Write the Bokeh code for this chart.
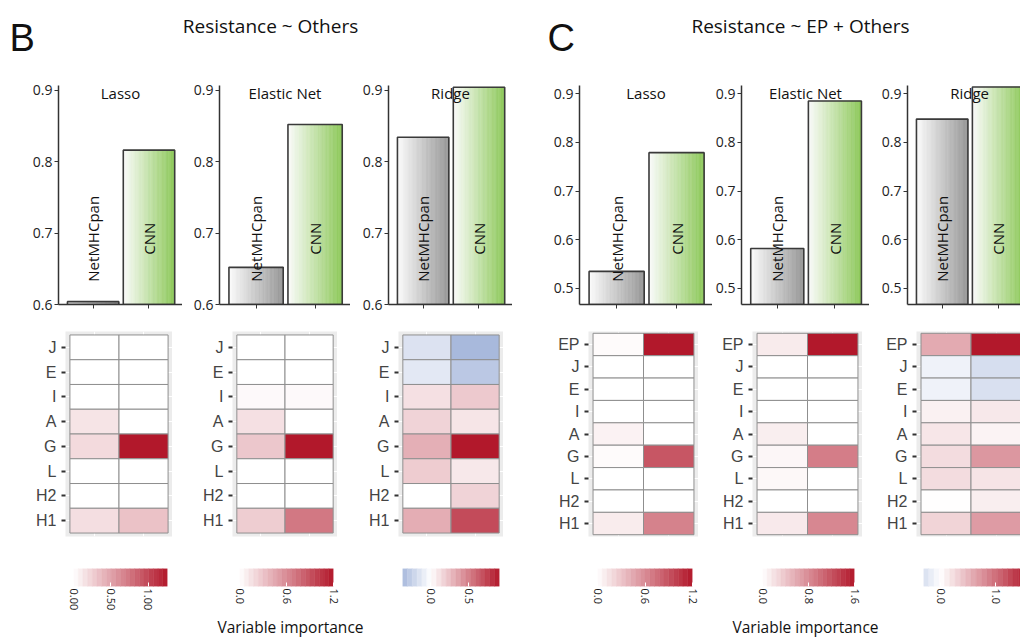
import numpy as np
from bokeh.plotting import figure
from bokeh.layouts import column, row
from bokeh.models import Range1d, FixedTicker
from bokeh.core.properties import value
from bokeh.embed import file_html
from bokeh.resources import INLINE

# ---------------------------------------------------------------- data
methods = ["Lasso", "Elastic Net", "Ridge"]
predictors = ["NetMHCpan", "CNN"]

# AUC per regression method (Lasso, Elastic Net, Ridge)
auc_others_netmhcpan = [0.604, 0.652, 0.834]
auc_others_cnn = [0.816, 0.852, 0.904]
auc_ep_netmhcpan = [0.535, 0.582, 0.848]
auc_ep_cnn = [0.779, 0.885, 0.914]

auc_ticks_others = [0.6, 0.7, 0.8, 0.9]
auc_ticks_ep = [0.5, 0.6, 0.7, 0.8, 0.9]

features_others = ["J", "E", "I", "A", "G", "L", "H2", "H1"]
features_ep = ["EP", "J", "E", "I", "A", "G", "L", "H2", "H1"]

# variable importance, one list per method and predictor (rows as in features_*)
imp_others_lasso_netmhcpan = [0, 0, 0, 0.15, 0.20, 0, 0, 0.18]
imp_others_lasso_cnn = [0, 0, 0, 0, 1.26, 0, 0, 0.33]
imp_others_enet_netmhcpan = [0, 0, 0.03, 0.16, 0.29, 0, 0, 0.26]
imp_others_enet_cnn = [0, 0, 0.03, 0, 1.20, 0, 0, 0.70]
imp_others_ridge_netmhcpan = [-0.15, -0.12, 0.12, 0.17, 0.31, 0.20, 0.0, 0.32]
imp_others_ridge_cnn = [-0.37, -0.29, 0.21, 0.10, 0.90, 0.09, 0.17, 0.70]

imp_ep_lasso_netmhcpan = [0.02, 0, 0, 0, 0.07, 0.02, 0, 0, 0.10]
imp_ep_lasso_cnn = [1.20, 0, 0, 0, 0, 0.88, 0, 0, 0.65]
imp_ep_enet_netmhcpan = [0.14, 0, 0, 0, 0.12, 0.06, 0.05, 0, 0.15]
imp_ep_enet_cnn = [1.60, 0, 0, 0, 0, 0.90, 0, 0, 0.83]
imp_ep_ridge_netmhcpan = [0.59, -0.12, -0.12, 0.10, 0.17, 0.24, 0.24, 0.01, 0.30]
imp_ep_ridge_cnn = [1.60, -0.31, -0.29, 0.16, 0.08, 0.72, 0.19, 0.12, 0.69]

cbar_ticks_others = [[0, 0.5, 1.0], [0, 0.6, 1.2], [0, 0.5]]
cbar_labels_others = [["0.00", "0.50", "1.00"], ["0.0", "0.6", "1.2"], ["0.0", "0.5"]]
cbar_ticks_ep = [[0, 0.6, 1.2], [0, 0.8, 1.6], [0, 1.0]]
cbar_labels_ep = [["0.0", "0.6", "1.2"], ["0.0", "0.8", "1.6"], ["0.0", "1.0"]]

# ---------------------------------------------------------------- style
SANS = value("Open Sans")
ARIAL = "Liberation Sans"
RED = (178, 24, 43)
BLUE = (43, 84, 170)
GREY_END = (150, 150, 150)
GREEN_END = (140, 200, 88)


def hexcol(rgb):
    return "#%02x%02x%02x" % tuple(int(round(c)) for c in rgb)


def mix(a, b, t):
    return tuple(x + (y - x) * t for x, y in zip(a, b))


def heat_color(v, vmax):
    t = min(abs(v) / vmax, 1.0)
    return hexcol(mix((255, 255, 255), RED if v >= 0 else BLUE, t))


def base_fig(w, h, xr, yr, bl, br, bt, bb, **kw):
    p = figure(width=w, height=h, x_range=Range1d(*xr), y_range=Range1d(*yr),
               output_backend="svg", toolbar_location=None, title=None,
               min_border_left=bl, min_border_right=br,
               min_border_top=bt, min_border_bottom=bb, **kw)
    p.outline_line_color = None
    p.border_fill_color = "white"
    p.background_fill_color = "white"
    return p


# ---------------------------------------------------------------- AUC bar panels
def bar_panel(title, net, cnn, y0, y1, yticks, bl, fw, xr=(0.38, 2.6)):
    p = base_fig(bl + fw, 245, xr, (y0, y1), bl, 0, 15, 11)
    p.grid.visible = False
    half = 0.46
    nstrip = 40
    ends = [GREY_END, GREEN_END]
    for i, v in enumerate([net, cnn]):
        c = i + 1
        edges = np.linspace(c - half, c + half, nstrip + 1)
        cols = [hexcol(mix((252, 252, 252), ends[i], (k + 0.5) / nstrip)) for k in range(nstrip)]
        p.quad(left=edges[:-1], right=edges[1:], bottom=[y0] * nstrip, top=[v] * nstrip,
               fill_color=cols, line_color=cols, line_width=0.6)
    p.quad(left=[1 - half, 2 - half], right=[1 + half, 2 + half], bottom=[y0, y0],
           top=[net, cnn], fill_color=None, line_color="#3a3a3a", line_width=1.6)
    span = y1 - y0
    p.text(x=[1, 2], y=[y0 + 0.30 * span] * 2, text=predictors, angle=np.pi / 2,
           text_align="center", text_baseline="middle", text_font=SANS,
           text_font_size="15px", text_color="#111111")
    p.text(x=[(xr[0] + 2.6) / 2], y=[y0 + 0.968 * span], text=[title],
           text_align="center", text_baseline="middle", text_font=SANS,
           text_font_size="15px", text_color="#111111")
    ya = p.yaxis[0]
    ya.ticker = FixedTicker(ticks=yticks)
    ya.axis_line_width = 1.5
    ya.axis_line_color = "#333333"
    ya.major_tick_out = 4
    ya.major_tick_in = 0
    ya.major_tick_line_color = "#333333"
    ya.minor_tick_line_color = None
    ya.major_label_standoff = 2
    ya.major_label_text_font = "Open Sans"
    ya.major_label_text_font_size = "14px"
    ya.major_label_text_color = "#222222"
    xa = p.xaxis[0]
    xa.ticker = FixedTicker(ticks=[1, 2])
    xa.axis_line_width = 1.5
    xa.axis_line_color = "#333333"
    xa.major_tick_out = 4
    xa.major_tick_in = 0
    xa.major_tick_line_color = "#333333"
    xa.minor_tick_line_color = None
    xa.major_label_overrides = {1: "", 2: ""}
    return p


# ---------------------------------------------------------------- importance heatmaps
def heat_panel(features, net, cnn, bl, fw, bt, fh, bb, xr=None):
    n = len(features)
    pad_y = 0.14 if n == 8 else 0.08
    if xr is None:
        xr = (-0.59, 1.59)
    p = base_fig(bl + fw, 245, xr, (-0.5 - pad_y, n - 0.5 + pad_y), bl, 0, bt, bb,
                 x_axis_location=None)
    p.background_fill_color = "#ececec"
    vals = list(net) + list(cnn)
    vmax = max(abs(v) for v in vals)
    ypos = [n - 1 - k for k in range(n)]
    xs = [0] * n + [1] * n
    ys = ypos + ypos
    p.rect(x=xs, y=ys, width=1, height=1, fill_color=[heat_color(v, vmax) for v in vals],
           line_color="#8f8f8f", line_width=1)
    p.xgrid.ticker = FixedTicker(ticks=[0, 1])
    p.grid.grid_line_color = "white"
    p.grid.grid_line_width = 1
    ya = p.yaxis[0]
    ya.ticker = FixedTicker(ticks=ypos)
    ya.major_label_overrides = {y: f for y, f in zip(ypos, features)}
    ya.axis_line_color = None
    ya.major_tick_out = 4
    ya.major_tick_in = 0
    ya.major_tick_line_width = 2
    ya.major_tick_line_color = "#333333"
    ya.minor_tick_line_color = None
    ya.major_label_standoff = 5
    ya.major_label_text_font = ARIAL
    ya.major_label_text_font_size = "16px"
    ya.major_label_text_color = "#444444"
    return p


# ---------------------------------------------------------------- colour bars
def cbar_panel(net, cnn, ticks, labels, bl, fw, br, x_end=None):
    vals = list(net) + list(cnn)
    vmin, vmax = min(vals), max(vals)
    vabs = max(abs(vmin), abs(vmax))
    p = base_fig(bl + fw + br, 55, (vmin, x_end if x_end is not None else vmax), (0, 1),
                 bl, br, 8, 29, y_axis_location=None)
    p.grid.visible = False
    nb = 20
    edges = np.linspace(vmin, vmax, nb + 1)
    cols = [heat_color((a + b) / 2, vabs) for a, b in zip(edges[:-1], edges[1:])]
    p.quad(left=edges[:-1], right=edges[1:], bottom=0, top=1, fill_color=cols,
           line_color=cols, line_width=0.5)
    xa = p.xaxis[0]
    xa.ticker = FixedTicker(ticks=ticks)
    xa.major_label_overrides = {t: l for t, l in zip(ticks, labels)}
    xa.axis_line_color = None
    xa.major_tick_in = 4
    xa.major_tick_out = 0
    xa.major_tick_line_color = "white"
    xa.minor_tick_line_color = None
    xa.major_label_orientation = "vertical"
    xa.major_label_standoff = 2
    xa.major_label_text_font = "Open Sans"
    xa.major_label_text_font_size = "11px"
    xa.major_label_text_color = "#1a1a1a"
    return p


# ---------------------------------------------------------------- text strips
def text_strip(h, items):
    p = base_fig(1020, h, (0, 1020), (h, 0), 0, 0, 0, 0,
                 x_axis_location=None, y_axis_location=None)
    p.grid.visible = False
    for x, y, txt, font, size, align, base in items:
        p.text(x=[x], y=[y], text=[txt], text_align=align, text_baseline=base,
               text_font=value(font), text_font_size=size, text_color="#111111")
    return p


header = text_strip(70, [
    (9, 37, "B", ARIAL, "38px", "left", "alphabetic"),
    (270, 25, "Resistance ~ Others", "Open Sans", "19px", "center", "middle"),
    (547, 37, "C", ARIAL, "38px", "left", "alphabetic"),
    (800, 25, "Resistance ~ EP + Others", "Open Sans", "19px", "center", "middle"),
])
footer = text_strip(26, [
    (290, 11, "Variable importance", "Open Sans", "15.5px", "center", "middle"),
    (805, 11, "Variable importance", "Open Sans", "15.5px", "center", "middle"),
])

y_others = (0.6, 0.9065)
y_ep = (0.467, 0.917)
bars = row(
    bar_panel(methods[0], auc_others_netmhcpan[0], auc_others_cnn[0], *y_others, auc_ticks_others, 58, 124),
    bar_panel(methods[1], auc_others_netmhcpan[1], auc_others_cnn[1], *y_others, auc_ticks_others, 37, 131),
    bar_panel(methods[2], auc_others_netmhcpan[2], auc_others_cnn[2], *y_others, auc_ticks_others, 38, 124),
    bar_panel(methods[0], auc_ep_netmhcpan[0], auc_ep_cnn[0], *y_ep, auc_ticks_ep, 67, 133),
    bar_panel(methods[1], auc_ep_netmhcpan[1], auc_ep_cnn[1], *y_ep, auc_ticks_ep, 28, 129),
    bar_panel(methods[2], auc_ep_netmhcpan[2], auc_ep_cnn[2], *y_ep, auc_ticks_ep, 38, 113,
              xr=(0.38, 2.40)),
)

heats = row(
    heat_panel(features_others, imp_others_lasso_netmhcpan, imp_others_lasso_cnn, 65, 107, 13, 208, 24),
    heat_panel(features_others, imp_others_enet_netmhcpan, imp_others_enet_cnn, 60, 105, 13, 208, 24),
    heat_panel(features_others, imp_others_ridge_netmhcpan, imp_others_ridge_cnn, 61, 105, 15, 208, 22),
    heat_panel(features_ep, imp_ep_lasso_netmhcpan, imp_ep_lasso_cnn, 85, 110, 16, 228, 1),
    heat_panel(features_ep, imp_ep_enet_netmhcpan, imp_ep_enet_cnn, 54, 110, 16, 228, 1),
    heat_panel(features_ep, imp_ep_ridge_netmhcpan, imp_ep_ridge_cnn, 54, 104, 16, 228, 1,
               xr=(-0.59, 1.49)),
)

cbars = row(
    cbar_panel(imp_others_lasso_netmhcpan, imp_others_lasso_cnn, cbar_ticks_others[0], cbar_labels_others[0], 73, 94, 8),
    cbar_panel(imp_others_enet_netmhcpan, imp_others_enet_cnn, cbar_ticks_others[1], cbar_labels_others[1], 64, 94, 8),
    cbar_panel(imp_others_ridge_netmhcpan, imp_others_ridge_cnn, cbar_ticks_others[2], cbar_labels_others[2], 61, 97, 8),
    cbar_panel(imp_ep_lasso_netmhcpan, imp_ep_lasso_cnn, cbar_ticks_ep[0], cbar_labels_ep[0], 90, 95, 8),
    cbar_panel(imp_ep_enet_netmhcpan, imp_ep_enet_cnn, cbar_ticks_ep[1], cbar_labels_ep[1], 62, 92, 8),
    cbar_panel(imp_ep_ridge_netmhcpan, imp_ep_ridge_cnn, cbar_ticks_ep[2], cbar_labels_ep[2], 61, 97, 0,
               x_end=1.45),
)

page = column(header, bars, heats, cbars, footer)

with open("out.html", "w") as f:
    f.write(file_html(page, INLINE, title="Variable importance"))
